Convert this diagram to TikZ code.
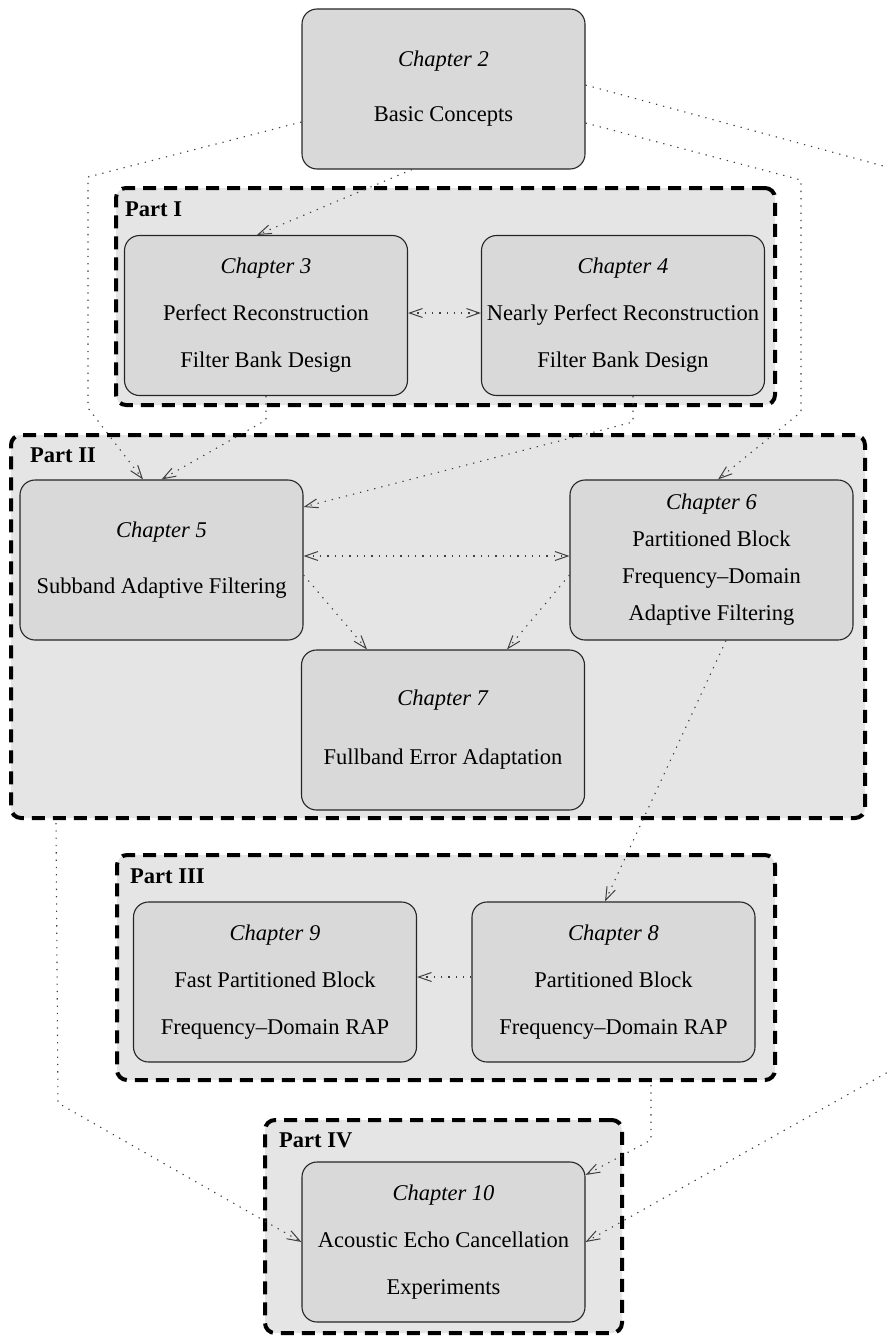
\documentclass[tikz,border=0pt]{standalone}
\usepackage{fontspec}
\setmainfont{Liberation Serif}
\usetikzlibrary{arrows.meta,calc}

\definecolor{partfill}{gray}{0.90}
\definecolor{chapfill}{gray}{0.85}
\definecolor{linkgray}{gray}{0.25}

\begin{document}
\begin{tikzpicture}[x=1pt,y=-1pt,
  chapbox/.style={draw=black!85, line width=1.1pt, fill=chapfill, rounded corners=15pt,
    minimum width=283pt, minimum height=160pt, inner sep=0pt, align=center,
    font=\fontsize{22.5pt}{#1}\selectfont},
  chapbox/.default=47pt,
  partbox/.style={draw=black, line width=4pt, dash pattern=on 13pt off 8pt,
    fill=partfill, rounded corners=10pt, inner sep=0pt},
  partlabel/.style={anchor=west, inner sep=0pt,
    font=\fontsize{22.5pt}{27pt}\selectfont\bfseries},
  tip/.tip={Straight Barb[length=13pt,width=9pt,line width=1pt]},
  link/.style={draw=linkgray, line width=1.1pt, dash pattern=on 1.3pt off 6pt, -tip},
  twoway/.style={draw=linkgray, line width=1.1pt, dash pattern=on 1.3pt off 6pt, tip-tip}
]
\useasboundingbox (0,0) rectangle (887,1336);
\clip (0,0) rectangle (887,1336);

% part frames
\node[partbox, minimum width=659pt, minimum height=217pt] (part1) at (445.5,296.5) {};
\node[partbox, minimum width=854pt, minimum height=383pt] (part2) at (438,626.5) {};
\node[partbox, minimum width=658pt, minimum height=225pt] (part3) at (446,967.5) {};
\node[partbox, minimum width=357pt, minimum height=213pt] (part4) at (443.5,1226.5) {};

\node[partlabel] (lab1) at (125,209) {Part I};
\node[partlabel] (lab2) at (30,455) {Part II};
\node[partlabel] (lab3) at (130,876) {Part III};
\node[partlabel] (lab4) at (279,1140) {Part IV};

% chapter boxes
\node[chapbox=55pt] (ch2) at (443.5,89) {\textit{Chapter 2}\\Basic Concepts};
\node[chapbox] (ch3) at (266,315.5) {\textit{Chapter 3}\\Perfect Reconstruction\\Filter Bank Design};
\node[chapbox] (ch4) at (623,315.5) {\textit{Chapter 4}\\Nearly Perfect Reconstruction\\Filter Bank Design};
\node[chapbox=56pt] (ch5) at (161.5,560) {\textit{Chapter 5}\\Subband Adaptive Filtering};
\node[chapbox=37pt] (ch6) at (711.5,560) {\textit{Chapter 6}\\Partitioned Block\\Frequency\textendash Domain\\Adaptive Filtering};
\node[chapbox=59pt] (ch7) at (443,730) {\textit{Chapter 7}\\Fullband Error Adaptation};
\node[chapbox] (ch9) at (275,982) {\textit{Chapter 9}\\Fast Partitioned Block\\Frequency\textendash Domain RAP};
\node[chapbox] (ch8) at (613.5,982) {\textit{Chapter 8}\\Partitioned Block\\Frequency\textendash Domain RAP};
\node[chapbox] (ch10) at (443.5,1242) {\textit{Chapter 10}\\Acoustic Echo Cancellation\\Experiments};

% bend points of the routed links
\coordinate (l1) at (88,177);
\coordinate (l2) at (88,408);
\coordinate (m1) at (266,420);
\coordinate (n1) at (633,422);
\coordinate (r1) at (801,180);
\coordinate (r2) at (801,412);
\coordinate (o1) at (920,176);
\coordinate (o2) at (920,1054);
\coordinate (p1) at (58,1103);
\coordinate (q1) at (651,1140);

% links
\draw[link] ([xshift=-31.5pt]ch2.south) -- ([xshift=-9pt]ch3.north);
\draw[twoway] ([yshift=2.5pt]ch3.east) -- ([yshift=2.5pt]ch4.west);
\draw[link] ([yshift=-33pt]ch2.west) -- (l1) -- (l2) -- ([xshift=-18.5pt]ch5.north);
\draw[link] (ch3.south) -- (m1) -- (ch5.north);
\draw[link] ([xshift=10pt]ch4.south) -- (n1) -- ([yshift=53pt]ch5.east);
\draw[link] ([yshift=-34pt]ch2.east) -- (r1) -- (r2) -- ([xshift=6.5pt]ch6.north);
\draw[link] ([yshift=4pt]ch2.east) -- (o1) -- (o2) -- (ch10.east);
\draw[twoway] ([yshift=4pt]ch5.east) -- ([yshift=4pt]ch6.west);
\draw[link] ([yshift=-15pt]ch5.east) -- ([xshift=-76pt]ch7.north);
\draw[link] ([yshift=-15pt]ch6.west) -- ([xshift=64pt]ch7.north);
\draw[link] ([xshift=14.5pt]ch6.south) -- ([xshift=-8.5pt]ch8.north);
\draw[link] ([yshift=5pt]ch8.west) -- ([yshift=5pt]ch9.east);
\draw[link] ([xshift=47pt,yshift=-3pt]part2.south west) -- (p1) -- (ch10.west);
\draw[link] ([xshift=205pt,yshift=-3pt]part3.south) -- (q1) -- ([yshift=67pt]ch10.east);
\end{tikzpicture}
\end{document}
